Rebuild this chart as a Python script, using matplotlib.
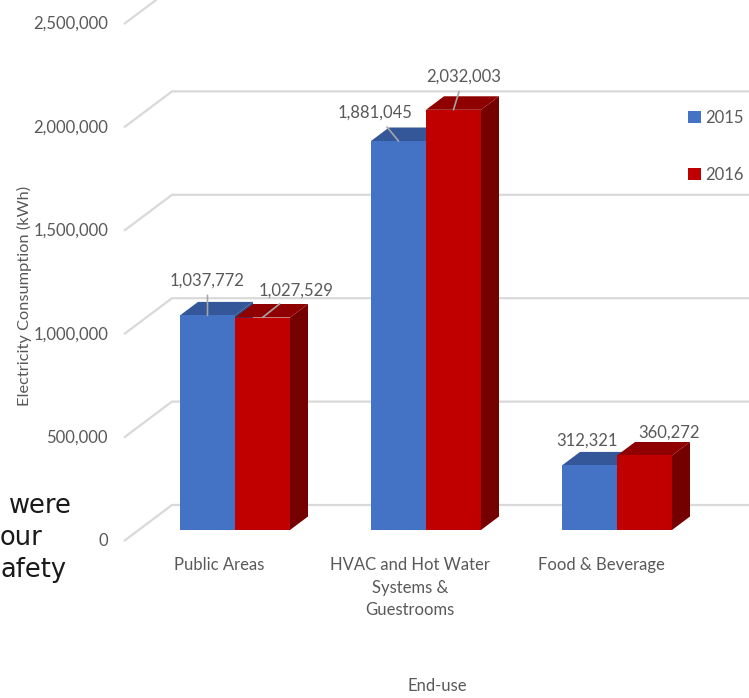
import matplotlib.pyplot as plt
from matplotlib.patches import Polygon, Patch

categories = ['Public Areas', 'HVAC and Hot Water\nSystems &\nGuestrooms', 'Food & Beverage']
years = ['2015', '2016']
values_2015 = [1037772, 1881045, 312321]
values_2016 = [1027529, 2032003, 360272]
y_ticks = [0, 500000, 1000000, 1500000, 2000000, 2500000]

# label offsets (pixels) as placed by hand in the original
label_off_2015 = [(0, 35), (-23, 28), (-2, 25)]
label_off_2016 = [(34, 27), (10, 33), (25, 23)]
leader_2015 = [True, True, False]
leader_2016 = [True, True, False]

FACE = {'2015': ('#4472C4', '#34579A', '#2B4C8A'),
        '2016': ('#C00000', '#8F0000', '#750000')}
TXT = '#595959'
GRID = '#D9D9D9'

plt.rcParams['font.family'] = ['Lato', 'DejaVu Sans']

W, H = 749, 698
fig = plt.figure(figsize=(W / 100, H / 100), dpi=100)
ax = fig.add_axes([0, 0, 1, 1])
ax.axis('off')

# map data units so the pseudo-3d frame sits where the original has it
px_cat = 191.0
px_kwh = 103.4 / 500000
x0_px = 235
y0_px = 530
ax.set_xlim(-x0_px / px_cat, (W - x0_px) / px_cat)
ax.set_ylim(-(H - y0_px) / px_kwh, y0_px / px_kwh)


def dx(p):
    return p / px_cat


def dy(p):
    return p / px_kwh


bw = dx(55)
ddx, ddy = dx(18), dy(13.5)

# gridlines: front-left diagonal then along the back wall
fx, fy = dx(-111), dy(-11)
bx, by = dx(-63), dy(25)
for v in y_ticks:
    ax.plot([fx, bx, ax.get_xlim()[1]], [v + fy, v + by, v + by],
            color=GRID, lw=1.6, solid_capstyle='butt', zorder=1)
    ax.text(dx(-127), v + fy, f'{v:,}', ha='right', va='center',
            fontsize=12, color=TXT)


def draw_bar(x, v, colors):
    front, top, side = colors
    ax.add_patch(Polygon([(x + bw, 0), (x + bw + ddx, ddy), (x + bw + ddx, v + ddy), (x + bw, v)],
                         closed=True, facecolor=side, lw=0, zorder=3))
    ax.add_patch(Polygon([(x, v), (x + bw, v), (x + bw + ddx, v + ddy), (x + ddx, v + ddy)],
                         closed=True, facecolor=top, lw=0, zorder=3))
    ax.bar(x, v, width=bw, align='edge', color=front, lw=0, zorder=3)


for i in range(len(categories)):
    draw_bar(i - bw, values_2015[i], FACE['2015'])
    draw_bar(i, values_2016[i], FACE['2016'])

for vals, offs, leads, shift in [(values_2015, label_off_2015, leader_2015, -bw / 2),
                                 (values_2016, label_off_2016, leader_2016, bw / 2)]:
    for i, v in enumerate(vals):
        ap = dict(arrowstyle='-', color='#A6A6A6', lw=1.2, shrinkA=3, shrinkB=0) if leads[i] else None
        ax.annotate(f'{v:,}', xy=(i + shift, v), xytext=offs[i], textcoords='offset pixels',
                    ha='center', va='center', fontsize=12, color=TXT,
                    arrowprops=ap, zorder=5)

for i, c in enumerate(categories):
    ax.text(i - dx(16), dy(-27), c, ha='center', va='top', fontsize=12,
            color=TXT, linespacing=1.5)

ax.text(dx(437 - x0_px), dy(-(686 - y0_px)), 'End-use', ha='center', va='center',
        fontsize=12, color=TXT)
ax.text(dx(24 - x0_px), dy(-(296 - y0_px)), 'Electricity Consumption (kWh)', rotation=90,
        ha='center', va='center', fontsize=11.8, color=TXT)

handles = [Patch(facecolor=FACE[y][0], label=y) for y in years]
fig.legend(handles=handles, loc='upper left', bbox_to_anchor=(688 / W, 1 - 110 / H),
           frameon=False, fontsize=12, borderpad=0, borderaxespad=0,
           handlelength=0.78, handleheight=0.78, handletextpad=0.25,
           labelspacing=2.45, labelcolor=TXT)

# slide text peeking in at the left edge (only the visible part)
for txt, xl, yb in [('were', 9, 513), ('our', 0, 545), ('afety', 0, 577)]:
    fig.text(xl / W, 1 - yb / H, txt, ha='left', va='baseline', fontsize=18.5,
             color='#1a1a1a', family='DejaVu Sans')

fig.savefig('out.png', dpi=100)
